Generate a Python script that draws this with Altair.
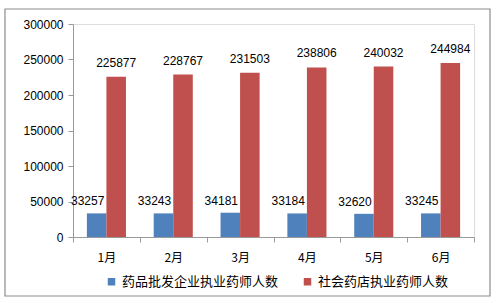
import altair as alt
import pandas as pd

months = ["1月", "2月", "3月", "4月", "5月", "6月"]
series = ["药品批发企业执业药师人数", "社会药店执业药师人数"]
wholesale = [33257, 33243, 34181, 33184, 32620, 33245]
retail = [225877, 228767, 231503, 238806, 240032, 244984]
y_ticks = [0, 50000, 100000, 150000, 200000, 250000, 300000]
colors = ["#4F81BD", "#C0504D"]

rows = []
for m, a, b in zip(months, wholesale, retail):
    rows.append({"month": m, "series": series[0], "value": a})
    rows.append({"month": m, "series": series[1], "value": b})
df = pd.DataFrame(rows)

num_font = "Liberation Sans"
cjk_font = "Noto Sans CJK SC"

x_enc = alt.X("month:N", sort=months, title=None,
              scale=alt.Scale(paddingInner=0, paddingOuter=0),
              axis=alt.Axis(labelAngle=0, tickBand="extent", tickSize=5,
                            labelPadding=10, domainColor="#9a9a9a", tickColor="#9a9a9a",
                            labelFont=cjk_font, labelFontSize=12, labelColor="#000000"))
xoff = alt.XOffset("series:N", sort=series,
                   scale=alt.Scale(paddingInner=0, paddingOuter=0.71))
y_enc = alt.Y("value:Q", title=None,
              scale=alt.Scale(domain=[0, 300000], nice=False),
              axis=alt.Axis(values=y_ticks, grid=False, tickSize=5, labelPadding=5,
                            labelOverlap=False,
                            domainColor="#9a9a9a", tickColor="#9a9a9a",
                            labelFont=num_font, labelFontSize=12, labelColor="#000000",
                            format="d"))

base = alt.Chart(df)

bars = base.mark_bar().encode(
    x=x_enc, xOffset=xoff, y=y_enc,
    color=alt.Color("series:N", sort=series,
                    scale=alt.Scale(domain=series, range=colors),
                    legend=alt.Legend(title=None, orient="none", direction="horizontal",
                                      legendX=32, legendY=251, symbolType="square",
                                      symbolSize=56, symbolStrokeWidth=0,
                                      labelFont=cjk_font, labelFontSize=13,
                                      labelColor="#000000", columnPadding=22,
                                      labelOffset=4)),
)

txt_blue = base.transform_filter(alt.datum.series == series[0]).mark_text(
    baseline="bottom", dy=-5, dx=-9, font=num_font, fontSize=12, color="#000000"
).encode(x=x_enc, xOffset=xoff, y=y_enc, text="value:Q")

txt_red = base.transform_filter(alt.datum.series == series[1]).mark_text(
    baseline="bottom", dy=-7, font=num_font, fontSize=12, color="#000000"
).encode(x=x_enc, xOffset=xoff, y=y_enc, text="value:Q")

frame = alt.Chart(pd.DataFrame({"a": [0]})).mark_rect(
    fill=None, stroke="#8c8c8c", strokeWidth=1.2
).encode(x=alt.value(-68), x2=alt.value(417), y=alt.value(-15), y2=alt.value(272))

chart = alt.layer(bars, txt_blue, txt_red, frame).properties(
    width=401, height=213,
    autosize=alt.AutoSizeParams(type="none"),
    padding={"left": 73, "top": 24, "right": 24, "bottom": 66},
).configure_view(stroke=None).configure(background="#ffffff")

chart.save("out.html", embed_options={"renderer": "svg", "actions": False})
